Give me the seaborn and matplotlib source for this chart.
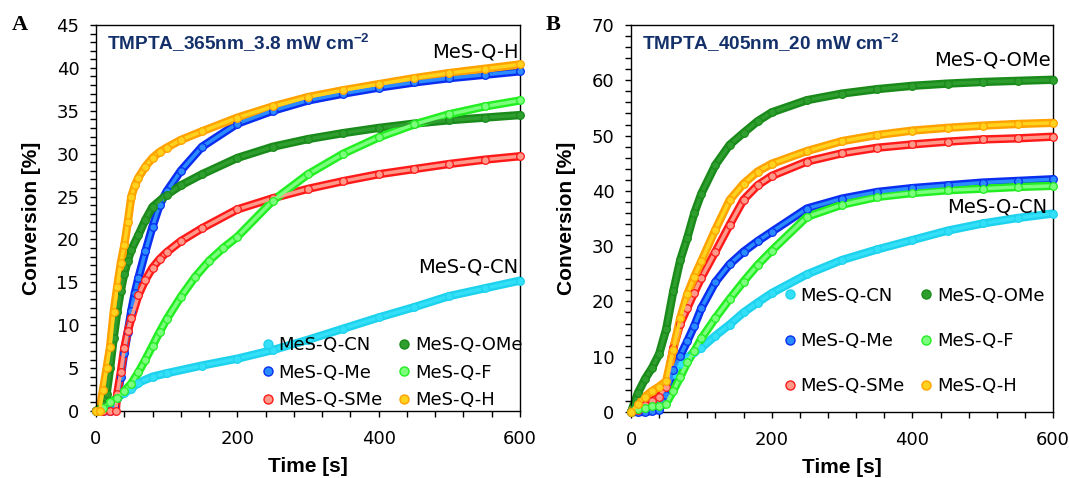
"""
Photopolymerization conversion curves (TMPTA) - two panels
"""

import pandas as pd
import matplotlib
matplotlib.use('Agg')
import matplotlib.pyplot as plt
from matplotlib.lines import Line2D
from matplotlib.ticker import MultipleLocator
import seaborn as sns

# series order = legend order (column-major, 2 columns)
SAMPLES = ['MeS-Q-CN', 'MeS-Q-Me', 'MeS-Q-SMe', 'MeS-Q-OMe', 'MeS-Q-F', 'MeS-Q-H']

# Panel A: 365 nm, 3.8 mW cm-2  (time [s], conversion [%])
a_t_cn = [0, 10, 20, 30, 40, 50, 60, 80, 100, 150, 200, 250, 300, 350, 400, 450, 500, 550, 600]
a_cn = [0, 0.2, 0.8, 1.5, 2.1, 2.6, 3.3, 4.0, 4.4, 5.3, 6.1, 7.1, 8.3, 9.6, 10.9, 12.1, 13.4, 14.3, 15.2]

a_t_me = [0, 10, 20, 25, 30, 35, 40, 45, 50, 55, 60, 70, 80, 90, 100, 120, 150, 200, 250, 300, 350, 400, 450, 500, 550, 600]
a_me = [0, 0, 0, 0.5, 1.5, 4.0, 6.8, 9.2, 11.7, 13.8, 15.5, 18.6, 21.5, 24.0, 25.6, 28.0, 30.8, 33.5, 35.0, 36.2, 37.0, 37.7, 38.3, 38.8, 39.2, 39.6]

a_t_sme = [0, 10, 20, 28, 30, 35, 40, 45, 50, 60, 70, 80, 90, 100, 120, 150, 200, 250, 300, 350, 400, 450, 500, 550, 600]
a_sme = [0, 0, 0, 0, 2.0, 4.5, 7.3, 9.3, 10.8, 13.5, 15.3, 16.7, 17.7, 18.5, 19.8, 21.3, 23.5, 24.8, 25.9, 26.8, 27.6, 28.2, 28.8, 29.3, 29.7]

a_t_ome = [0, 5, 10, 15, 20, 25, 30, 35, 40, 45, 50, 60, 70, 80, 100, 120, 150, 200, 250, 300, 350, 400, 450, 500, 550, 600]
a_ome = [0, 0.3, 0.8, 2.0, 5.0, 8.5, 11.5, 14.0, 16.0, 17.5, 18.8, 20.5, 22.3, 23.8, 25.2, 26.3, 27.6, 29.5, 30.8, 31.7, 32.4, 33.0, 33.5, 33.9, 34.2, 34.5]

a_t_f = [0, 10, 20, 30, 40, 50, 60, 70, 80, 90, 100, 120, 140, 160, 180, 200, 250, 300, 350, 400, 450, 500, 550, 600]
a_f = [0, 0.4, 1.0, 1.5, 2.3, 3.2, 4.5, 6.0, 7.6, 9.2, 10.7, 13.3, 15.6, 17.5, 19.0, 20.3, 24.5, 27.6, 30.0, 31.9, 33.4, 34.6, 35.5, 36.2]

a_t_h = [0, 5, 10, 15, 20, 25, 30, 35, 40, 45, 50, 55, 60, 70, 80, 90, 100, 120, 150, 200, 250, 300, 350, 400, 450, 500, 550, 600]
a_h = [0, 0, 2.5, 5.0, 7.5, 11.5, 14.5, 17.2, 19.3, 22.0, 25.0, 26.3, 27.2, 28.5, 29.5, 30.2, 30.7, 31.6, 32.6, 34.2, 35.5, 36.6, 37.4, 38.1, 38.8, 39.4, 39.9, 40.4]

# Panel B: 405 nm, 20 mW cm-2
b_t = [0, 10, 20, 30, 40, 50, 60, 70, 80, 90, 100, 120, 140, 160, 180, 200, 250, 300, 350, 400, 450, 500, 550, 600]
b_cn = [0, 0.3, 0.8, 1.5, 2.5, 4.5, 6.8, 8.6, 9.8, 10.9, 11.6, 13.8, 15.8, 18.0, 19.8, 21.5, 24.9, 27.5, 29.4, 31.1, 32.8, 34.1, 35.1, 35.9]
b_me = [0, 0, 0, 0.2, 0.4, 3.0, 7.6, 10.2, 12.8, 15.6, 18.8, 23.5, 26.7, 29.0, 30.9, 32.6, 36.8, 38.6, 39.8, 40.5, 41.0, 41.5, 41.8, 42.1]
b_sme = [0, 0.4, 1.2, 2.0, 2.8, 4.5, 11.5, 16.0, 18.8, 21.6, 24.3, 29.0, 33.8, 38.4, 41.0, 42.7, 45.3, 46.8, 47.8, 48.4, 48.9, 49.3, 49.5, 49.8]
b_ome = [0, 3.5, 6.0, 8.0, 10.5, 15.0, 21.8, 27.5, 31.5, 36.0, 39.5, 44.7, 48.3, 50.5, 52.6, 54.2, 56.4, 57.6, 58.4, 59.0, 59.4, 59.7, 59.9, 60.1]
b_f = [0, 0.5, 0.8, 1.0, 1.1, 1.5, 3.8, 6.3, 9.0, 11.0, 13.3, 17.0, 20.4, 23.6, 26.6, 29.2, 35.3, 37.5, 38.9, 39.6, 40.1, 40.4, 40.7, 40.9]
b_h = [0, 1.5, 2.8, 3.8, 4.6, 5.6, 11.3, 17.0, 21.3, 24.5, 27.3, 33.0, 38.3, 41.3, 43.5, 44.9, 47.2, 49.0, 50.1, 50.9, 51.4, 51.8, 52.1, 52.3]

# marker colours (edge, face)
EDGE = {'MeS-Q-CN': '#1ED2EE', 'MeS-Q-Me': '#0A2EF0', 'MeS-Q-SMe': '#FF1A1A',
        'MeS-Q-OMe': '#1A8A1A', 'MeS-Q-F': '#22EE22', 'MeS-Q-H': '#FFA200'}
FACE = {'MeS-Q-CN': '#33E0F8', 'MeS-Q-Me': '#2A8CFF', 'MeS-Q-SMe': '#FF9A8A',
        'MeS-Q-OMe': '#2E9E2E', 'MeS-Q-F': '#7CFF7C', 'MeS-Q-H': '#FFD21E'}

TITLE_COLOR = '#14306A'
REG = ['DejaVu Sans']                    # regular text (wide sans)
BOLD = ['Liberation Sans', 'DejaVu Sans']  # bold labels


def build_frame(series):
    rows = []
    for name, (t, v) in series.items():
        rows.append(pd.DataFrame({'time': t, 'conv': v, 'sample': name}))
    return pd.concat(rows, ignore_index=True)


df_a = build_frame({
    'MeS-Q-CN': (a_t_cn, a_cn), 'MeS-Q-Me': (a_t_me, a_me), 'MeS-Q-SMe': (a_t_sme, a_sme),
    'MeS-Q-OMe': (a_t_ome, a_ome), 'MeS-Q-F': (a_t_f, a_f), 'MeS-Q-H': (a_t_h, a_h),
})
df_b = build_frame({
    'MeS-Q-CN': (b_t, b_cn), 'MeS-Q-Me': (b_t, b_me), 'MeS-Q-SMe': (b_t, b_sme),
    'MeS-Q-OMe': (b_t, b_ome), 'MeS-Q-F': (b_t, b_f), 'MeS-Q-H': (b_t, b_h),
})

sns.set_theme(style='ticks')
plt.rcParams['font.family'] = REG
plt.rcParams['mathtext.fontset'] = 'custom'
plt.rcParams['mathtext.rm'] = 'Liberation Sans'
plt.rcParams['mathtext.bf'] = 'Liberation Sans:bold'
for key in ['text.color', 'axes.labelcolor', 'xtick.color', 'ytick.color', 'axes.edgecolor']:
    plt.rcParams[key] = 'black'

fig = plt.figure(figsize=(10.69, 4.78), dpi=100)
ax_a = fig.add_axes([0.0898, 0.1402, 0.3966, 0.8075])
ax_b = fig.add_axes([0.5903, 0.1381, 0.3948, 0.8096])


def draw_panel(ax, df, ymax, ymajor, yminor, title, annotations, leg_center, leg_spacing):
    for name in SAMPLES:
        sub = df[df['sample'] == name]
        sns.lineplot(data=sub, x='time', y='conv', ax=ax, color=EDGE[name], lw=6,
                     solid_capstyle='round', zorder=2, legend=False, clip_on=False)
        sns.lineplot(data=sub, x='time', y='conv', ax=ax, color=FACE[name], lw=2.5,
                     marker='o', markersize=5.5, markerfacecolor=FACE[name],
                     markeredgecolor=EDGE[name], markeredgewidth=0.9,
                     zorder=3, legend=False, clip_on=False)

    ax.set_xlim(0, 600)
    ax.set_ylim(0, ymax)
    ax.xaxis.set_major_locator(MultipleLocator(200))
    ax.xaxis.set_minor_locator(MultipleLocator(40))
    ax.yaxis.set_major_locator(MultipleLocator(ymajor))
    ax.yaxis.set_minor_locator(MultipleLocator(yminor))
    ax.tick_params(which='both', direction='out', length=4, width=1, labelsize=13)
    ax.tick_params(axis='x', pad=10)
    ax.tick_params(axis='y', pad=8)
    for side in ['top', 'right', 'left', 'bottom']:
        ax.spines[side].set_visible(True)
        ax.spines[side].set_linewidth(1)
    ax.set_xlabel('Time [s]', fontsize=15, fontweight='bold', family=BOLD, labelpad=6)
    ax.set_ylabel('Conversion [%]', fontsize=15, fontweight='bold', family=BOLD, labelpad=11)

    ax.text(0.025, 0.953, title, transform=ax.transAxes, fontsize=13.7, fontweight='bold',
            family=BOLD, color=TITLE_COLOR, ha='left', va='center')
    for label, x, y in annotations:
        ax.text(x, y, label, fontsize=14, ha='right', va='center')

    handles = [Line2D([], [], ls='none', marker='o', markersize=6.5,
                      markerfacecolor=FACE[n], markeredgecolor=EDGE[n], markeredgewidth=1)
               for n in SAMPLES]
    ax.legend(handles, SAMPLES, ncol=2, frameon=False, fontsize=13,
              loc='center', bbox_to_anchor=leg_center, borderpad=0,
              handletextpad=0.1, columnspacing=0.7, labelspacing=leg_spacing,
              handlelength=1.0)


draw_panel(ax_a, df_a, 45, 5, 1, r'TMPTA_365nm_3.8 mW cm$^{\mathbf{-2}}$',
           [('MeS-Q-H', 598, 41.8), ('MeS-Q-CN', 597, 16.8)], (0.695, 0.0997), 0.52)
draw_panel(ax_b, df_b, 70, 10, 2, r'TMPTA_405nm_20 mW cm$^{\mathbf{-2}}$',
           [('MeS-Q-OMe', 597, 63.7), ('MeS-Q-CN', 592, 37.1)], (0.667, 0.1835), 1.52)

fig.text(20 / 1069, 1 - 25 / 478, 'A', fontsize=16, fontweight='bold',
         family=['Liberation Serif'], ha='center', va='center')
fig.text(553 / 1069, 1 - 25 / 478, 'B', fontsize=16, fontweight='bold',
         family=['Liberation Serif'], ha='center', va='center')

fig.savefig('out.png', dpi=100)
